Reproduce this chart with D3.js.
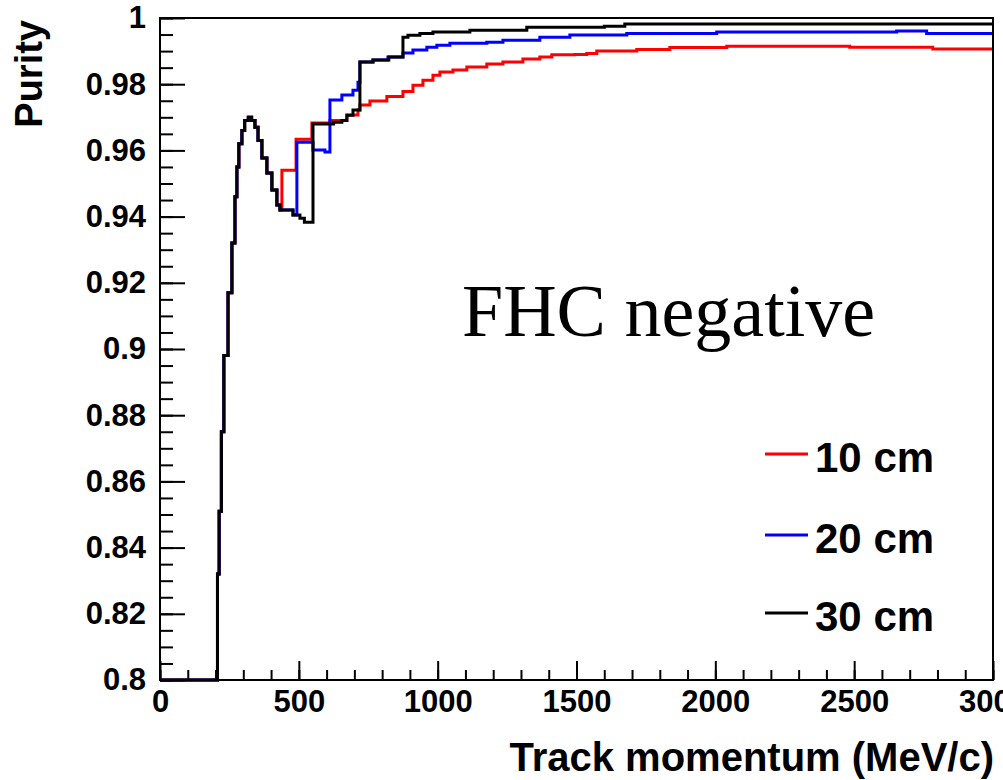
<!DOCTYPE html>
<html>
<head>
<meta charset="utf-8">
<script src="https://cdn.jsdelivr.net/npm/d3@7.9.0/dist/d3.min.js"></script>
<style>
  html, body { margin: 0; padding: 0; background: #fff; }
  svg { display: block; }
  .tick text { font-family: "Liberation Sans", Arial, sans-serif; font-weight: bold; }
</style>
</head>
<body>
<svg id="chart" width="1003" height="780"></svg>
<script>
// Tick values for both axes
const xTicks = [0, 500, 1000, 1500, 2000, 2500, 3000];
const yTicks = [0.8, 0.82, 0.84, 0.86, 0.88, 0.9, 0.92, 0.94, 0.96, 0.98, 1];

// Shared rise / peak / dip (all three curves overlap here)
const commonEdges = [0, 207, 213, 221, 230, 245, 259, 270, 277, 284, 295, 305, 318, 330, 342, 353, 367, 385, 403, 421, 432];
const commonPurity = [0.8, 0.832, 0.851, 0.875, 0.898, 0.917, 0.932, 0.946, 0.955, 0.962, 0.966, 0.969, 0.970, 0.969, 0.967, 0.963, 0.9577, 0.9532, 0.948, 0.9435, 0.942];

// 10 cm (red)
const redEdges = [439, 490, 547, 612, 673, 713, 720, 756, 817, 875, 911, 947, 983, 1008, 1055, 1105, 1177, 1235, 1307, 1368, 1411, 1494, 1537, 1573, 1717, 1836, 2041, 2484, 2783, 3000];
const redPurity = [0.954, 0.9634, 0.9683, 0.969, 0.9707, 0.9722, 0.9737, 0.9749, 0.9763, 0.9778, 0.9797, 0.9812, 0.9827, 0.9837, 0.9843, 0.9852, 0.9861, 0.9867, 0.9876, 0.9882, 0.9889, 0.989, 0.9893, 0.990, 0.9905, 0.9911, 0.9915, 0.9912, 0.9906, 0.9906];

// 20 cm (blue)
const blueEdges = [479, 493, 551, 594, 612, 655, 695, 713, 720, 767, 821, 875, 911, 961, 997, 1044, 1177, 1235, 1368, 1476, 1681, 2005, 2653, 2761, 3000];
const bluePurity = [0.9405, 0.9625, 0.9601, 0.9595, 0.9752, 0.9767, 0.9782, 0.9806, 0.9867, 0.9873, 0.9882, 0.9894, 0.9903, 0.9912, 0.9918, 0.9924, 0.9927, 0.9933, 0.9942, 0.9949, 0.9953, 0.9958, 0.9961, 0.9953, 0.9953];

// 30 cm (black)
const blackEdges = [479, 504, 520, 551, 625, 655, 673, 695, 720, 767, 824, 875, 893, 936, 983, 1116, 1321, 1600, 1674, 3000];
const blackPurity = [0.9405, 0.9395, 0.9383, 0.968, 0.9685, 0.969, 0.9706, 0.9722, 0.9867, 0.9873, 0.9882, 0.9942, 0.9948, 0.9953, 0.9958, 0.9963, 0.9972, 0.9975, 0.9982, 0.9982];

const seriesNames = ["10 cm", "20 cm", "30 cm"];
const seriesColors = ["#ff0000", "#0000ff", "#000000"];

const svg = d3.select("#chart");

// Plot frame in pixels
const plotLeft = 160, plotRight = 993, plotTop = 18, plotBottom = 680;

const x = d3.scaleLinear().domain([0, 3000]).range([plotLeft, plotRight]);
const y = d3.scaleLinear().domain([0.8, 1]).range([plotBottom, plotTop]);

// build [edge, value] pairs for one curve
function toSteps(edges, values) {
    return edges.map((e, i) => [e, values[i]]);
}

const curves = [
    toSteps(commonEdges, commonPurity).concat(toSteps(redEdges, redPurity)),
    toSteps(commonEdges, commonPurity).concat(toSteps(blueEdges, bluePurity)),
    toSteps(commonEdges, commonPurity).concat(toSteps(blackEdges, blackPurity))
];

svg.append("clipPath").attr("id", "plot-clip")
    .append("rect")
    .attr("x", plotLeft).attr("y", plotTop - 2)
    .attr("width", plotRight - plotLeft).attr("height", plotBottom - plotTop + 4);

const line = d3.line()
    .x(d => x(d[0]))
    .y(d => y(d[1]))
    .curve(d3.curveStepAfter);

svg.append("g")
    .attr("clip-path", "url(#plot-clip)")
    .selectAll("path")
    .data(curves)
    .enter()
    .append("path")
    .attr("d", line)
    .attr("fill", "none")
    .attr("stroke", (d, i) => seriesColors[i])
    .attr("stroke-width", 3)
    .attr("stroke-linejoin", "miter");

// Minor ticks
svg.append("g")
    .attr("transform", `translate(${plotLeft},0)`)
    .call(d3.axisLeft(y).tickValues(d3.range(0.8, 1.0001, 0.005)).tickSize(-13).tickFormat(""))
    .call(g => g.select(".domain").remove())
    .selectAll("line").attr("stroke", "#000").attr("stroke-width", 2);

svg.append("g")
    .attr("transform", `translate(0,${plotBottom})`)
    .call(d3.axisBottom(x).tickValues(d3.range(0, 3001, 100)).tickSize(-10).tickFormat(""))
    .call(g => g.select(".domain").remove())
    .selectAll("line").attr("stroke", "#000").attr("stroke-width", 2);

// Major ticks with labels
const yAxis = svg.append("g")
    .attr("transform", `translate(${plotLeft},0)`)
    .call(d3.axisLeft(y).tickValues(yTicks).tickSize(-25).tickPadding(14).tickFormat(d3.format("~g")));
yAxis.select(".domain").remove();
yAxis.selectAll("line").attr("stroke", "#000").attr("stroke-width", 2);
yAxis.selectAll("text").attr("font-size", 31).attr("fill", "#000");

const xAxis = svg.append("g")
    .attr("transform", `translate(0,${plotBottom})`)
    .call(d3.axisBottom(x).tickValues(xTicks).tickSize(-19).tickPadding(10).tickFormat(d3.format("d")));
xAxis.select(".domain").remove();
xAxis.selectAll("line").attr("stroke", "#000").attr("stroke-width", 2);
xAxis.selectAll("text").attr("font-size", 31).attr("fill", "#000");

// Frame
svg.append("rect")
    .attr("x", plotLeft).attr("y", plotTop)
    .attr("width", plotRight - plotLeft).attr("height", plotBottom - plotTop)
    .attr("fill", "none")
    .attr("stroke", "#000")
    .attr("stroke-width", 2);

// Axis titles
svg.append("text")
    .attr("transform", "translate(42,20) rotate(-90)")
    .attr("text-anchor", "end")
    .attr("font-family", "Liberation Sans, Arial, sans-serif")
    .attr("font-weight", "bold")
    .attr("font-size", 38)
    .text("Purity");

svg.append("text")
    .attr("x", 994).attr("y", 771)
    .attr("text-anchor", "end")
    .attr("font-family", "Liberation Sans, Arial, sans-serif")
    .attr("font-weight", "bold")
    .attr("font-size", 40)
    .text("Track momentum (MeV/c)");

// Annotation
svg.append("text")
    .attr("x", 462).attr("y", 336)
    .attr("font-family", "Liberation Serif, Times New Roman, serif")
    .attr("font-size", 74)
    .text("FHC negative");

// Legend
const legendY = [454, 535, 613];
const legend = svg.append("g");
seriesNames.forEach((name, i) => {
    legend.append("line")
        .attr("x1", 765).attr("x2", 808)
        .attr("y1", legendY[i]).attr("y2", legendY[i])
        .attr("stroke", seriesColors[i])
        .attr("stroke-width", 3);
    legend.append("text")
        .attr("x", 815).attr("y", legendY[i] + 18)
        .attr("font-family", "Liberation Sans, Arial, sans-serif")
        .attr("font-weight", "bold")
        .attr("font-size", 42)
        .text(name);
});
</script>
</body>
</html>
